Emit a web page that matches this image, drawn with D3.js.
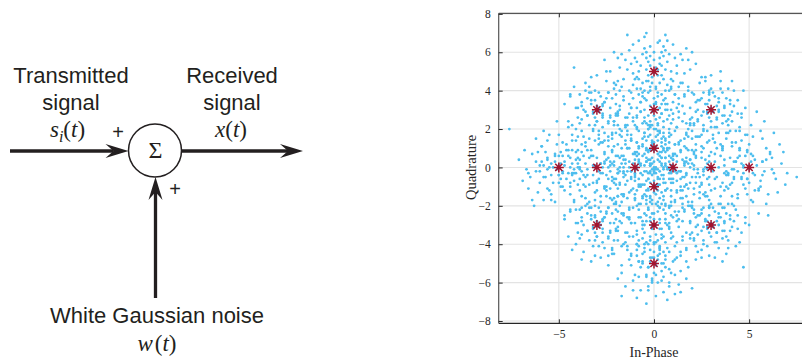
<!DOCTYPE html>
<html>
<head>
<meta charset="utf-8">
<script src="https://cdn.jsdelivr.net/npm/d3@7"></script>
<style>
  html, body { margin: 0; padding: 0; background: #fff; }
  svg { display: block; }
</style>
</head>
<body>
<svg id="fig" width="802" height="358"></svg>
<script>
// ---- Block diagram labels ----
const inputLabel = ["Transmitted", "signal"];
const outputLabel = ["Received", "signal"];
const noiseLabel = "White Gaussian noise";

// ---- 16-point constellation (ideal symbol positions) ----
const symbolsI = [0, 0, 0, 0, 0, 0, -5, -3, -1, 1, 3, 5, 3, -3, 3, -3];
const symbolsQ = [5, 3, 1, -1, -3, -5, 0, 0, 0, 0, 0, 0, 3, 3, -3, -3];

// ---- Axis ticks ----
const xTicks = [-5, 0, 5];
const yTicks = [-8, -6, -4, -2, 0, 2, 4, 6, 8];

// ---- Received samples [in-phase, quadrature] ----
const received = [
  // near (0, 5)
  [0.3,5.4],[-0.6,5.9],[0.9,4.6],[-0.2,6.3],[0.5,5.8],[-1.1,4.9],[0.1,4.2],[-0.4,5.1],[1.2,5.3],[-0.8,6.6],[0.6,6.1],[-1.5,5.6],[0.2,3.9],[-0.3,4.5],[1.6,4.9],[-0.9,4.1],[0.8,5.9],[-0.4,7.0],[0.4,4.8],[-1.3,6.1],[1.0,6.4],[-0.5,3.6],[0.7,4.3],[-1.8,5.2],[1.4,5.9],[0.0,5.6],[-0.7,5.3],[0.3,6.6],[-0.2,4.0],[1.9,5.1],[-2.1,6.0],[0.5,3.5],[-1.0,5.7],[0.9,5.0],[-0.4,6.0],[1.3,4.2],[-1.6,4.6],[0.2,5.1],[-0.6,4.4],[0.6,6.9],[-2.3,5.0],[2.2,5.4],[-0.1,4.7],[1.1,3.8],[-1.2,3.9],[0.4,5.3],[-0.8,5.0],[1.7,6.2],[-1.4,6.9],[0.0,6.0],[-0.3,5.5],[0.8,4.0],[-2.0,4.3],[2.5,4.7],[-0.5,6.8],[0.1,3.3],[-1.7,5.9],[1.5,5.6],[-0.9,4.7],[0.7,5.5],[-0.2,5.8],[1.0,4.5],[-2.6,5.6],[0.3,4.4],[-1.1,6.4],[2.0,6.0],[-0.7,3.4],[0.5,6.3],
  [0.1,5.2],[-0.3,4.8],[0.6,5.1],[-0.9,5.5],[0.4,6.0],[-0.1,4.4],[1.1,5.7],[-1.4,5.1],[0.2,6.5],[-0.6,3.9],[0.9,4.1],[-0.2,5.3],[1.5,4.4],[-1.1,4.3],[0.7,6.6],[-0.5,6.2],[0.0,4.9],[1.8,5.6],[-1.9,5.7],[0.3,5.7],[-0.8,4.6],[0.5,4.6],[-0.4,5.7],[1.2,4.9],[-1.2,5.4],
  // near (0, 3)
  [0.4,3.3],[-0.5,2.6],[1.1,3.8],[-1.2,3.1],[0.2,2.2],[-0.3,3.9],[0.8,2.7],[-0.9,2.0],[1.5,3.2],[-1.6,3.7],[0.1,4.1],[-0.1,2.9],[0.6,3.6],[-0.7,3.4],[1.9,2.5],[-2.0,2.8],[0.3,1.8],[-0.4,4.5],[1.2,2.1],[-1.1,2.4],[0.9,4.2],[-0.2,3.2],[2.3,3.5],[-2.4,3.9],[0.5,2.4],[-0.8,3.8],[1.4,4.4],[-1.4,1.9],[0.0,3.6],[-0.6,1.5],[0.7,3.0],[-1.9,2.2],[1.7,1.8],[-0.3,2.0],[0.2,4.8],[-1.0,4.6],[1.0,3.4],[-0.5,3.0],[2.6,2.9],[-2.7,3.3],[0.4,2.8],[-0.1,1.3],[1.3,2.9],[-1.3,3.3],[0.8,1.6],[-0.9,2.7],[0.1,2.5],[-1.7,4.2],[1.8,4.0],[-0.4,3.5],[0.6,4.0],[-2.2,1.7],[2.1,2.2],[0.0,2.0],[-0.7,4.1],[1.1,1.2],[-1.5,2.6],[0.3,3.1],[-0.2,2.4],[0.9,2.3],[-1.2,1.4],[1.6,3.7],[-0.8,1.1],[0.5,1.0],[-3.0,2.4],[2.9,3.9],[-0.6,2.3],[0.2,3.7],
  [0.2,3.0],[-0.3,2.7],[0.7,3.3],[-0.9,3.1],[0.4,3.8],[-0.1,2.2],[1.0,2.5],[-1.3,2.8],[0.1,3.4],[-0.6,3.7],[0.9,3.0],[-0.4,2.3],[1.3,3.6],[-1.1,3.6],[0.5,2.1],[-0.2,4.2],[0.3,2.6],[1.6,2.8],[-1.8,3.0],[0.6,3.3],[-0.7,2.9],[0.0,3.3],[-0.5,4.0],[1.2,3.1],[-1.0,2.2],
  // near (0, 1)
  [0.3,0.8],[-0.4,1.4],[1.0,0.4],[-1.1,0.7],[0.5,1.8],[-0.2,0.1],[0.8,1.3],[-0.8,1.9],[1.4,0.9],[-1.5,0.2],[0.1,-0.3],[-0.1,1.1],[0.6,0.5],[-0.6,0.6],[1.8,1.6],[-1.9,1.2],[0.2,2.3],[-0.3,-0.6],[1.2,2.1],[-1.2,1.7],[0.9,-0.2],[0.0,0.9],[2.2,0.6],[-2.3,0.1],[0.4,1.5],[-0.7,0.1],[1.5,-0.5],[-1.4,2.2],[-0.1,0.5],[-0.5,2.4],[0.7,1.0],[-1.8,2.0],[1.7,2.3],[-0.3,2.0],[0.2,-0.9],[-1.0,-0.7],[1.1,0.7],[-0.4,0.9],[2.5,1.1],[-2.6,0.8],[0.4,1.1],[0.0,2.7],[1.3,1.2],[-1.3,1.0],[0.7,2.5],[-0.9,1.3],[0.1,1.6],[-1.6,-0.2],[1.9,0.0],[-0.2,0.4],[0.5,0.0],[-2.1,2.4],[2.0,1.9],[0.1,2.0],[-0.7,-0.3],[1.0,2.8],[-1.5,1.4],[0.3,0.3],[-0.2,1.7],[0.8,1.8],[-1.1,2.6],[1.6,0.3],[-0.7,2.9],[0.6,3.0],[-2.9,1.5],[2.8,0.2],[-0.5,1.6],[0.2,0.7],
  [0.1,1.0],[-0.3,0.8],[0.6,1.2],[-0.8,1.0],[0.3,1.9],[-0.1,0.2],[0.9,0.5],[-1.2,1.5],[0.2,1.4],[-0.5,1.8],[1.1,1.9],[-0.4,0.3],[1.4,1.4],[-1.0,0.4],[0.4,0.1],[-0.2,2.2],[0.6,0.8],[1.7,1.0],[-1.7,0.6],[0.5,1.6],[-0.6,1.1],[0.0,1.3],[-0.3,1.6],[0.8,-0.1],[-0.9,2.1],
  // near (0, -1)
  [-0.2,-0.8],[0.5,-1.5],[-1.0,-0.4],[1.2,-0.7],[-0.4,-1.9],[0.1,0.0],[-0.9,-1.2],[0.8,-2.0],[-1.5,-0.9],[1.4,-0.2],[0.0,-1.3],[0.3,-0.6],[-0.6,-1.6],[0.7,-1.1],[-1.9,-1.5],[1.8,-1.1],[-0.1,-2.4],[0.4,0.5],[-1.3,-2.1],[1.1,-1.8],[-0.8,0.2],[0.2,-0.9],[-2.2,-0.7],[2.3,-0.1],[-0.5,-1.4],[0.6,0.1],[-1.6,0.4],[1.3,-2.3],[0.0,-0.3],[0.6,-2.7],[-0.7,-1.0],[1.9,-2.0],[-1.7,-2.4],[0.3,-2.1],[-0.2,0.9],[1.0,0.7],[-1.2,-1.2],[0.5,-0.8],[-2.6,-1.1],[2.5,-0.8],[-0.3,-1.1],[0.1,-3.0],[-1.4,-1.6],[1.4,-1.2],[-0.8,-2.6],[0.9,-0.3],[-0.1,-1.7],[1.6,0.2],[-1.8,0.0],[0.3,-1.6],[-0.4,0.3],[2.1,-2.4],[-2.0,-1.9],[-0.1,-0.1],[0.8,0.3],[-1.0,-2.9],[1.5,-1.6],[-0.3,-0.3],[0.4,-1.3],[-0.9,-2.0],[1.2,-2.8],[-1.6,-0.3],[0.8,-3.1],[-0.6,-3.0],[2.9,-0.5],[-2.8,-1.8],[0.6,-1.9],[-0.2,-1.5],
  [0.1,-1.0],[-0.3,-1.2],[0.6,-0.8],[-0.8,-0.9],[0.3,-0.2],[-0.1,-1.9],[0.9,-1.5],[-1.2,-0.5],[0.2,-0.6],[-0.5,-0.2],[1.1,-0.1],[-0.4,-1.7],[1.4,-0.6],[-1.0,-1.6],[0.4,-1.9],[-0.2,0.1],[0.6,-1.2],[1.7,-0.9],[-1.7,-1.4],[0.5,-0.4],[-0.6,-0.9],[0.0,-0.7],[-0.3,-2.2],[0.8,-2.1],[-0.9,0.0],
  // near (0, -3)
  [0.3,-2.7],[-0.5,-3.4],[1.1,-2.3],[-1.2,-2.9],[0.2,-3.8],[-0.3,-2.1],[0.8,-3.2],[-0.9,-4.0],[1.5,-2.8],[-1.6,-2.4],[0.1,-1.9],[-0.1,-3.1],[0.6,-2.4],[-0.7,-2.6],[1.9,-3.5],[-2.0,-3.2],[0.3,-4.2],[-0.4,-1.5],[1.2,-3.9],[-1.1,-3.6],[0.9,-1.8],[-0.2,-2.8],[2.3,-2.5],[-2.4,-2.1],[0.5,-3.6],[-0.8,-2.2],[1.4,-1.6],[-1.4,-4.1],[0.0,-2.4],[-0.6,-4.5],[0.7,-3.0],[-1.9,-3.8],[1.7,-4.2],[-0.3,-4.0],[0.2,-1.2],[-1.0,-1.4],[1.0,-2.6],[-0.5,-3.0],[2.6,-3.1],[-2.7,-2.7],[0.4,-3.2],[-0.1,-4.7],[1.3,-3.1],[-1.3,-2.7],[0.8,-4.4],[-0.9,-3.3],[0.1,-3.5],[-1.7,-1.8],[1.8,-2.0],[-0.4,-2.5],[0.6,-2.0],[-2.2,-4.3],[2.1,-3.8],[0.0,-4.0],[-0.7,-1.9],[1.1,-4.8],[-1.5,-3.4],[0.3,-2.9],[-0.2,-3.6],[0.9,-3.7],[-1.2,-4.6],[1.6,-2.3],[-0.8,-4.9],[0.5,-5.0],[-3.0,-3.6],[2.9,-2.1],[-0.6,-3.7],[0.2,-2.3],
  [-0.1,-3.0],[0.3,-3.2],[-0.6,-2.8],[0.8,-2.9],[-0.3,-2.2],[0.1,-3.9],[-0.9,-3.5],[1.2,-2.5],[-0.2,-2.6],[0.5,-2.2],[-1.1,-2.1],[0.4,-3.7],[-1.4,-2.6],[1.0,-3.6],[-0.4,-3.9],[0.2,-1.8],[-0.6,-3.2],[-1.7,-2.9],[1.7,-3.4],[-0.5,-2.4],[0.6,-2.9],[0.0,-2.7],[0.3,-4.3],[-0.8,-4.1],[0.9,-2.0],
  // near (0, -5)
  [-0.2,-4.7],[0.4,-5.4],[-0.9,-4.3],[1.0,-4.9],[-0.1,-5.8],[0.3,-4.1],[-0.7,-5.2],[0.8,-6.0],[-1.3,-4.8],[1.4,-4.4],[0.0,-3.9],[0.1,-5.1],[-0.5,-4.4],[0.6,-4.6],[-1.7,-5.5],[1.8,-5.2],[-0.3,-6.2],[0.4,-3.5],[-1.1,-5.9],[1.1,-5.6],[-0.8,-3.8],[0.2,-4.8],[-2.1,-4.5],[2.2,-4.1],[-0.4,-5.6],[0.7,-4.2],[-1.3,-3.6],[1.3,-6.1],[0.0,-4.4],[0.5,-6.5],[-0.6,-5.0],[1.7,-5.8],[-1.5,-6.2],[0.2,-6.0],[-0.1,-3.2],[0.9,-3.4],[-0.9,-4.6],[0.4,-5.0],[-2.4,-5.1],[2.5,-4.7],[-0.3,-5.2],[0.1,-6.7],[-1.2,-5.1],[1.2,-4.7],[-0.7,-6.4],[0.8,-5.3],[0.0,-5.5],[1.5,-3.8],[-1.6,-4.0],[0.3,-4.5],[-0.5,-4.0],[2.0,-6.3],[-1.9,-5.8],[-0.1,-6.0],[0.6,-3.9],[-0.9,-6.8],[1.4,-5.4],[-0.2,-4.9],[0.1,-5.6],[-0.8,-5.7],[1.1,-6.6],[-1.4,-4.3],[0.7,-6.9],[-0.4,-7.1],[-1.7,-6.7],[1.4,-6.5],[-1.1,-6.4],[0.5,-5.7],[-0.2,-4.3],
  [0.1,-5.0],[-0.3,-5.2],[0.6,-4.8],[-0.8,-4.9],[0.3,-4.2],[-0.1,-5.9],[0.9,-5.5],[-1.2,-4.5],[0.2,-4.6],[-0.5,-4.2],[1.1,-4.1],[-0.4,-5.7],[1.4,-4.6],[-1.0,-5.6],[0.4,-5.9],[-0.2,-3.8],[0.6,-5.2],[1.7,-4.9],[-1.7,-5.1],[0.5,-4.4],[-0.6,-4.9],[0.0,-4.7],[-0.3,-6.4],[0.8,-6.2],[-0.9,-4.0],
  // near (-5, 0)
  [-4.7,0.3],[-5.4,-0.4],[-4.3,0.9],[-4.9,-1.0],[-5.8,0.1],[-4.1,-0.3],[-5.2,0.7],[-6.0,-0.8],[-4.8,1.3],[-4.4,-1.4],[-3.9,0.0],[-5.1,-0.1],[-4.4,0.5],[-4.6,-0.6],[-5.5,1.7],[-5.2,-1.8],[-6.2,0.3],[-3.5,-0.4],[-5.9,1.1],[-5.6,-1.1],[-3.8,0.8],[-4.8,-0.2],[-4.5,2.1],[-4.1,-2.2],[-5.6,0.4],[-4.2,-0.7],[-3.6,1.3],[-6.1,-1.3],[-4.4,0.0],[-6.5,-0.5],[-5.0,0.6],[-5.8,-1.7],[-6.2,1.5],[-6.0,-0.2],[-3.2,0.1],[-3.4,-0.9],[-4.6,0.9],[-5.0,-0.4],[-5.1,2.4],[-4.7,-2.5],[-5.2,0.3],[-6.7,-0.1],[-5.1,1.2],[-4.7,-1.2],[-6.4,0.7],[-5.3,-0.8],[-5.5,0.0],[-3.8,-1.5],[-4.0,1.6],[-4.5,-0.3],[-4.0,0.5],[-6.3,-2.0],[-5.8,1.9],[-6.0,0.1],[-3.9,-0.6],[-6.8,0.9],[-5.4,-1.4],[-4.9,0.2],[-5.6,-0.1],[-5.7,0.8],[-6.6,-1.1],[-4.3,1.4],[-6.9,-0.7],[-7.1,0.4],[-7.6,2.0],[-6.4,-1.7],[-5.7,-0.5],[-4.3,0.2],
  [-5.0,0.1],[-4.8,-0.3],[-5.2,0.6],[-5.0,-0.8],[-5.9,0.3],[-4.2,-0.1],[-4.5,0.9],[-5.5,-1.2],[-5.4,0.2],[-5.8,-0.5],[-5.9,1.1],[-4.3,-0.4],[-5.6,1.4],[-4.4,-1.0],[-4.1,0.4],[-6.2,-0.2],[-4.8,0.6],[-5.0,1.7],[-5.4,-1.7],[-5.6,0.5],[-4.9,-0.6],[-5.3,0.0],[-6.6,-0.3],[-6.1,0.8],[-4.0,-0.9],
  // near (-3, 0)
  [-2.7,-0.3],[-3.4,0.5],[-2.3,-1.1],[-2.9,1.2],[-3.8,-0.2],[-2.1,0.3],[-3.2,-0.8],[-4.0,0.9],[-2.8,-1.5],[-2.4,1.6],[-1.9,-0.1],[-3.1,0.1],[-2.4,-0.6],[-2.6,0.7],[-3.5,-1.9],[-3.2,2.0],[-4.2,-0.3],[-1.5,0.4],[-3.9,-1.2],[-3.6,1.1],[-1.8,-0.9],[-2.8,0.2],[-2.5,-2.3],[-2.1,2.4],[-3.6,-0.5],[-2.2,0.8],[-1.6,-1.4],[-4.1,1.4],[-2.4,0.0],[-4.5,0.6],[-3.0,-0.7],[-3.8,1.9],[-4.2,-1.7],[-4.0,0.2],[-1.2,-0.2],[-1.4,1.0],[-2.6,-1.0],[-3.0,0.5],[-3.1,-2.6],[-2.7,2.7],[-3.2,-0.4],[-4.7,0.1],[-3.1,-1.3],[-2.7,1.3],[-4.4,-0.8],[-3.3,0.9],[-3.5,-0.1],[-1.8,1.7],[-2.0,-1.8],[-2.5,0.4],[-2.0,-0.6],[-4.3,2.2],[-3.8,-2.1],[-4.0,0.0],[-1.9,0.6],[-4.8,-1.0],[-3.4,1.5],[-2.9,-0.2],[-3.6,0.2],[-3.7,-0.9],[-4.6,1.2],[-2.3,-1.6],[-4.9,0.8],[-5.0,-0.4],[-3.6,2.9],[-2.1,-2.9],[-3.7,0.6],[-2.3,-0.2],
  [-3.1,0.0],[-2.8,-0.3],[-3.3,0.6],[-3.0,-0.8],[-2.3,0.3],[-3.9,-0.1],[-3.5,0.9],[-2.5,-1.2],[-2.6,0.2],[-2.2,-0.5],[-2.1,1.1],[-3.7,-0.4],[-2.6,1.4],[-3.6,-1.0],[-3.9,0.4],[-1.8,-0.2],[-3.2,0.6],[-2.9,1.7],[-3.1,-1.7],[-2.4,0.5],[-2.9,-0.6],[-2.7,0.0],[-4.3,-0.3],[-4.1,0.8],[-2.0,-0.9],
  // near (-1, 0)
  [-1.3,0.3],[-0.6,-0.4],[-1.7,1.0],[-1.1,-1.1],[-0.2,0.2],[-1.9,-0.3],[-0.8,0.7],[0.0,-0.9],[-1.2,1.4],[-1.6,-1.5],[-2.1,0.1],[-0.9,-0.1],[-1.6,0.6],[-1.4,-0.7],[-0.5,1.8],[-0.8,-1.9],[0.2,0.4],[-2.5,-0.4],[-0.1,1.2],[-0.4,-1.2],[-2.2,0.9],[-1.2,-0.2],[-1.5,2.2],[-1.9,-2.3],[-0.4,0.5],[-1.8,-0.8],[-2.4,1.4],[0.1,-1.4],[-1.6,0.0],[0.5,-0.6],[-1.0,0.7],[-0.2,-1.8],[0.2,1.7],[0.0,-0.2],[-2.8,0.2],[-2.6,-1.0],[-1.4,1.0],[-1.0,-0.5],[-0.9,2.6],[-1.3,-2.6],[-0.8,0.4],[0.7,-0.1],[-0.9,1.3],[-1.3,-1.3],[0.4,0.8],[-0.7,-0.9],[-0.5,0.1],[-2.2,-1.7],[-2.0,1.8],[-1.5,-0.4],[-2.0,0.6],[0.3,-2.1],[-0.2,2.1],[0.0,0.0],[-2.1,-0.6],[0.8,1.0],[-0.6,-1.5],[-1.1,0.2],[-0.4,-0.2],[-0.3,0.9],[0.6,-1.2],[-1.7,1.6],[0.9,-0.8],[1.0,0.4],[-0.4,-2.8],[-1.9,2.8],[-0.3,-0.6],[-1.7,0.2],
  [-1.0,-0.1],[-0.8,0.3],[-1.2,-0.6],[-1.0,0.8],[-1.9,-0.3],[-0.2,0.1],[-0.5,-0.9],[-1.5,1.2],[-1.4,-0.2],[-1.8,0.5],[-1.9,-1.1],[-0.3,0.4],[-1.6,-1.4],[-0.4,1.0],[-0.1,-0.4],[-2.2,0.2],[-0.8,-0.6],[-1.0,-1.7],[-1.4,1.7],[-1.6,-0.5],[-0.9,0.6],[-1.3,0.0],[-2.6,0.3],[-2.1,-0.8],[0.0,0.9],
  // near (1, 0)
  [1.3,-0.2],[0.6,0.5],[1.7,-0.9],[1.1,1.2],[0.2,-0.1],[1.9,0.4],[0.8,-0.6],[0.0,1.0],[1.2,-1.3],[1.6,1.5],[2.1,-0.1],[0.9,0.1],[1.6,-0.5],[1.4,0.8],[0.5,-1.7],[0.8,2.0],[-0.2,-0.3],[2.5,0.5],[0.1,-1.1],[0.4,1.3],[2.2,-0.8],[1.2,0.3],[1.5,-2.1],[1.9,2.2],[0.4,-0.4],[1.8,0.9],[2.4,-1.3],[-0.1,1.4],[1.6,0.1],[-0.5,0.7],[1.0,-0.6],[0.2,1.9],[-0.2,-1.6],[0.0,0.3],[2.8,-0.1],[2.6,1.0],[1.4,-1.0],[1.0,0.6],[0.9,-2.5],[1.3,2.6],[0.8,-0.3],[-0.7,0.2],[0.9,-1.2],[1.3,1.3],[-0.4,-0.7],[0.7,0.9],[0.5,-0.1],[2.2,1.6],[2.0,-1.8],[1.5,0.4],[2.0,-0.5],[-0.3,2.2],[0.2,-2.0],[0.0,-0.1],[2.1,0.7],[-0.8,-1.0],[0.6,1.5],[1.1,-0.2],[0.4,0.2],[0.3,-0.9],[-0.6,1.2],[1.7,-1.5],[-0.9,0.8],[-1.0,-0.3],[0.4,2.8],[1.9,-2.8],[0.3,0.6],[1.7,-0.3],
  [1.0,0.1],[1.2,-0.3],[0.8,0.6],[1.0,-0.8],[1.7,0.3],[0.1,-0.1],[0.5,0.9],[1.5,-1.2],[0.6,0.2],[0.2,-0.5],[0.1,1.1],[1.7,-0.4],[0.6,1.4],[1.6,-1.0],[1.9,0.4],[-0.2,-0.2],[1.2,0.6],[0.9,1.7],[1.1,-1.7],[0.4,0.5],[0.9,-0.6],[0.7,0.0],[2.3,-0.3],[2.1,0.8],[0.0,-0.9],
  // near (3, 0)
  [2.6,-0.4],[3.5,0.6],[2.2,0.9],[3.9,-1.1],[3.1,-0.2],[2.4,1.6],[4.3,0.3],[1.9,-0.8],[3.3,1.0],[2.8,-1.5],[3.7,0.1],[2.0,0.2],[4.6,-0.6],[3.0,2.1],[2.5,-2.2],[3.6,-0.8],[1.6,1.1],[4.1,1.3],[2.7,0.4],[3.4,-1.9],[2.1,-1.4],[4.9,0.8],[3.2,0.7],[1.4,-0.2],[3.8,1.8],[2.9,-0.9],[4.4,-1.6],[2.3,2.4],[3.1,1.5],[2.6,-0.1],[4.0,0.5],[1.7,0.5],[3.5,-2.6],[3.3,-0.5],[2.0,-2.0],[4.7,-0.3],[2.8,1.3],[3.9,2.5],[1.2,-1.2],[3.0,0.0],[2.4,-1.0],[4.2,-0.1],[3.6,1.1],[2.2,-0.5],[5.1,0.3],[3.4,2.9],[1.8,2.0],[3.7,-1.2],[2.7,-2.8],[4.5,1.9],[2.5,0.8],[3.2,-1.1],[1.5,-1.9],[4.3,-2.2],[2.9,0.3],[3.1,-3.0],[2.0,1.5],[3.8,-0.4],[2.6,1.9],[4.8,-1.1],
  [3.0,-0.1],[3.2,0.3],[2.8,-0.6],[3.0,0.8],[3.7,-0.3],[2.1,0.1],[2.5,-0.9],[3.5,1.2],[2.6,-0.2],[2.2,0.5],[2.1,-1.1],[3.7,0.4],[2.6,-1.4],[3.6,1.0],[3.9,-0.4],[1.8,0.2],[3.2,-0.6],[2.9,-1.7],[3.1,1.7],[2.4,-0.5],[2.9,0.6],[2.7,0.0],[4.3,0.3],[4.1,-0.8],[2.0,0.9],
  // near (5, 0)
  [5.3,0.4],[4.6,-0.5],[5.8,-0.2],[4.9,0.9],[5.5,-1.1],[4.2,0.3],[6.1,0.7],[5.0,-0.1],[4.4,-1.4],[5.7,1.5],[6.4,-0.6],[4.8,1.7],[5.2,-1.8],[3.9,-0.3],[6.0,-1.4],[5.4,0.1],[4.5,0.6],[6.7,0.2],[5.1,2.2],[4.1,-1.9],[5.9,1.0],[4.7,-0.9],[6.3,1.8],[5.6,-0.7],[3.6,0.9],[5.0,1.2],[6.9,-0.9],[4.3,1.3],[5.5,-2.4],[6.2,-0.1],[4.8,-2.6],[5.8,2.4],[3.8,-1.0],[5.3,-0.4],[4.6,2.8],[7.0,-0.3],[5.9,-1.9],[4.0,1.9],[5.1,0.7],[6.6,1.2],[4.9,-1.4],[3.4,0.0],[5.7,0.3],[4.4,-0.2],[6.0,-2.5],[5.2,1.6],[4.7,0.1],[6.5,-1.3],[3.7,-2.1],[5.4,2.9],[4.2,-0.6],[6.2,0.5],[5.0,-3.0],[4.5,1.0],[5.6,1.9],[4.9,-0.6],[6.8,0.8],[4.1,2.4],[5.3,-1.2],[7.5,-0.5],
  [5.0,0.1],[5.2,-0.3],[4.8,0.6],[5.0,-0.8],[5.7,0.3],[4.1,-0.1],[4.5,0.9],[5.5,-1.2],[4.6,0.2],[4.2,-0.5],[4.1,1.1],[5.7,-0.4],[4.6,1.4],[5.6,-1.0],[5.9,0.4],[3.8,-0.2],[5.2,0.6],[4.9,1.7],[5.1,-1.7],[4.4,0.5],[4.9,-0.6],[4.7,0.0],[6.3,-0.3],[6.1,0.8],[4.0,-0.9],
  // near (3, 3)
  [3.3,3.2],[2.5,2.7],[3.8,3.6],[2.9,4.0],[3.6,2.3],[2.2,3.4],[4.1,2.9],[3.0,2.4],[2.6,3.9],[3.9,4.1],[3.4,1.8],[2.1,2.3],[4.4,3.5],[3.2,3.7],[2.8,1.9],[3.7,2.7],[1.9,3.1],[4.2,4.0],[2.7,3.3],[3.5,4.5],[2.3,1.6],[4.6,2.6],[3.1,2.9],[1.6,3.8],[3.8,1.5],[2.9,3.5],[4.0,3.3],[2.4,4.4],[3.3,2.1],[4.3,1.9],[2.0,2.6],[3.6,3.9],[2.6,2.2],[4.8,3.1],[3.0,4.8],[1.8,4.2],[3.9,2.2],[2.8,2.9],[3.4,3.4],[2.2,1.2],[4.1,4.5],[3.2,1.3],[1.5,2.4],[3.7,3.1],[2.5,3.6],[4.5,2.1],[2.9,2.6],[3.5,5.0],[1.7,1.7],[4.0,2.7],[2.3,3.0],[3.1,3.9],[4.7,4.0],[2.7,4.7],[3.6,1.1],[1.3,3.3],[3.3,2.6],[2.1,3.8],[4.2,3.2],[2.9,1.4],
  [3.1,2.9],[2.8,3.3],[3.3,2.5],[2.9,3.8],[3.7,3.2],[2.2,2.9],[2.6,2.0],[3.5,4.1],[3.6,2.7],[2.4,3.5],[2.0,3.9],[3.8,2.4],[2.5,1.7],[3.4,3.6],[4.0,3.5],[2.8,2.8],[3.2,2.1],[2.7,4.5],[3.9,1.8],[2.3,2.5],[3.0,3.1],[3.4,3.0],[4.4,2.8],[1.9,2.3],[3.0,4.1],
  // near (-3, 3)
  [-2.7,3.2],[-3.5,2.7],[-2.2,3.6],[-3.1,4.0],[-2.4,2.3],[-3.8,3.4],[-1.9,2.9],[-3.0,2.4],[-3.4,3.9],[-2.1,4.1],[-2.6,1.8],[-3.9,2.3],[-1.6,3.5],[-2.8,3.7],[-3.2,1.9],[-2.3,2.7],[-4.1,3.1],[-1.8,4.0],[-3.3,3.3],[-2.5,4.5],[-3.7,1.6],[-1.4,2.6],[-2.9,2.9],[-4.4,3.8],[-2.2,1.5],[-3.1,3.5],[-2.0,3.3],[-3.6,4.4],[-2.7,2.1],[-1.7,1.9],[-4.0,2.6],[-2.4,3.9],[-3.4,2.2],[-1.2,3.1],[-3.0,4.8],[-4.2,4.2],[-2.1,2.2],[-3.2,2.9],[-2.6,3.4],[-3.8,1.2],[-1.9,4.5],[-2.8,1.3],[-4.5,2.4],[-2.3,3.1],[-3.5,3.6],[-1.5,2.1],[-3.1,2.6],[-2.5,5.0],[-4.3,1.7],[-2.0,2.7],[-3.7,3.0],[-2.9,3.9],[-1.3,4.0],[-3.3,4.7],[-2.4,1.1],[-4.7,3.3],[-2.7,2.6],[-3.9,3.8],[-1.8,3.2],[-3.1,1.4],[-4.2,5.2],
  [-2.9,3.1],[-3.2,2.8],[-2.6,3.4],[-3.3,3.9],[-2.3,2.6],[-3.8,3.2],[-2.9,1.9],[-3.6,4.0],[-2.4,2.4],[-3.5,2.7],[-2.0,3.8],[-3.8,2.5],[-2.2,1.8],[-3.3,3.5],[-4.0,3.1],[-2.7,2.8],[-3.1,2.2],[-2.1,4.4],[-4.1,2.0],[-2.5,3.6],[-3.0,3.2],[-2.8,3.0],[-4.4,3.7],[-1.9,2.7],[-3.4,4.2],
  // near (3, -3)
  [3.3,-2.8],[2.5,-3.3],[3.8,-2.4],[2.9,-2.0],[3.6,-3.7],[2.2,-2.6],[4.1,-3.1],[3.0,-3.6],[2.6,-2.1],[3.9,-1.9],[3.4,-4.2],[2.1,-3.7],[4.4,-2.5],[3.2,-2.3],[2.8,-4.1],[3.7,-3.3],[1.9,-2.9],[4.2,-2.0],[2.7,-2.7],[3.5,-1.5],[2.3,-4.4],[4.6,-3.4],[3.1,-3.1],[1.6,-2.2],[3.8,-4.5],[2.9,-2.5],[4.0,-2.7],[2.4,-1.6],[3.3,-3.9],[4.3,-4.1],[2.0,-3.4],[3.6,-2.1],[2.6,-3.8],[4.8,-2.9],[3.0,-1.2],[1.8,-1.8],[3.9,-3.8],[2.8,-3.1],[3.4,-2.6],[2.2,-4.8],[4.1,-1.5],[3.2,-4.7],[1.5,-3.6],[3.7,-2.9],[2.5,-2.4],[4.5,-3.9],[2.9,-3.4],[3.5,-1.0],[1.7,-4.3],[4.0,-3.3],[2.3,-3.0],[3.1,-2.1],[4.7,-5.2],[2.7,-1.3],[3.6,-4.9],[1.3,-2.7],[3.3,-3.4],[2.1,-2.2],[4.2,-2.8],[2.9,-4.6],
  [3.1,-3.1],[2.8,-2.8],[3.3,-3.4],[2.9,-2.1],[3.7,-2.8],[2.2,-3.1],[2.6,-4.0],[3.5,-1.9],[3.6,-3.3],[2.4,-2.5],[2.0,-2.1],[3.8,-3.6],[2.5,-4.3],[3.4,-2.4],[4.0,-2.5],[2.8,-3.2],[3.2,-3.9],[2.7,-1.5],[3.9,-4.2],[2.3,-3.5],[3.0,-2.9],[3.4,-3.0],[4.4,-3.2],[1.9,-3.7],[3.0,-1.9],
  // near (-3, -3)
  [-2.7,-2.8],[-3.5,-3.3],[-2.2,-2.4],[-3.1,-2.0],[-2.4,-3.7],[-3.8,-2.6],[-1.9,-3.1],[-3.0,-3.6],[-3.4,-2.1],[-2.1,-1.9],[-2.6,-4.2],[-3.9,-3.7],[-1.6,-2.5],[-2.8,-2.3],[-3.2,-4.1],[-2.3,-3.3],[-4.1,-2.9],[-1.8,-2.0],[-3.3,-2.7],[-2.5,-1.5],[-3.7,-4.4],[-1.4,-3.4],[-2.9,-3.1],[-4.4,-2.2],[-2.2,-4.5],[-3.1,-2.5],[-2.0,-2.7],[-3.6,-1.6],[-2.7,-3.9],[-1.7,-4.1],[-4.0,-3.4],[-2.4,-2.1],[-3.4,-3.8],[-1.2,-2.9],[-3.0,-1.2],[-4.2,-1.8],[-2.1,-3.8],[-3.2,-3.1],[-2.6,-2.6],[-3.8,-4.8],[-1.9,-1.5],[-2.8,-4.7],[-4.5,-3.6],[-2.3,-2.9],[-3.5,-2.4],[-1.5,-3.9],[-3.1,-3.4],[-2.5,-1.0],[-4.3,-4.3],[-2.0,-3.3],[-3.7,-3.0],[-2.9,-2.1],[-1.3,-2.2],[-3.3,-4.9],[-2.4,-4.6],[-4.7,-2.7],[-2.7,-3.4],[-3.9,-2.2],[-1.8,-2.8],[-3.1,-4.6],
  [-2.9,-2.9],[-3.2,-3.2],[-2.6,-2.6],[-3.3,-2.1],[-2.3,-3.4],[-3.8,-2.8],[-2.9,-4.1],[-3.6,-2.0],[-2.4,-3.6],[-3.5,-3.3],[-2.0,-2.2],[-3.8,-3.5],[-2.2,-4.2],[-3.3,-2.5],[-4.0,-2.9],[-2.7,-3.2],[-3.1,-3.8],[-2.1,-1.6],[-4.1,-4.0],[-2.5,-2.4],[-3.0,-2.8],[-2.8,-3.0],[-4.4,-2.3],[-1.9,-3.3],[-3.4,-1.8]
];

const svg = d3.select("#fig");
const ink = "#231f20";

// ================= Block diagram: x(t) = s_i(t) + w(t) =================
const diagram = svg.append("g").attr("class", "diagram");
const node = { cx: 155, cy: 150.5, r: 26.5 };

// barbed arrowhead pointing along +x, tip at origin
const headShape = [[0, 0], [-23, -7], [-15, 0], [-23, 7]];
function arrow(x1, y1, x2, y2) {
  const ang = Math.atan2(y2 - y1, x2 - x1);
  const back = 15;
  diagram.append("line")
    .attr("x1", x1).attr("y1", y1)
    .attr("x2", x2 - back * Math.cos(ang)).attr("y2", y2 - back * Math.sin(ang))
    .attr("stroke", ink).attr("stroke-width", 3.3);
  diagram.append("path")
    .attr("d", d3.line()(headShape) + "Z")
    .attr("transform", `translate(${x2},${y2}) rotate(${ang * 180 / Math.PI})`)
    .attr("fill", ink);
}

arrow(10, 151, node.cx - node.r, 151);
arrow(node.cx + node.r, 151, 303, 151);
arrow(155.5, 298, 155.5, node.cy + node.r);

diagram.append("circle")
  .attr("cx", node.cx).attr("cy", node.cy).attr("r", node.r)
  .attr("fill", "none").attr("stroke", ink).attr("stroke-width", 1.5);

diagram.append("text")
  .attr("x", node.cx + 0.5).attr("y", 158)
  .attr("text-anchor", "middle")
  .attr("font-family", "Liberation Serif").attr("font-size", 24)
  .attr("fill", ink).text("Σ");

const sans = "Liberation Sans";
function labelLines(lines, cx, y0, dy) {
  lines.forEach((t, k) => {
    diagram.append("text")
      .attr("x", cx).attr("y", y0 + k * dy)
      .attr("text-anchor", "middle")
      .attr("font-family", sans).attr("font-size", 22)
      .attr("fill", ink).text(t);
  });
}
labelLines(inputLabel, 71, 83, 26.5);
labelLines(outputLabel, 232, 83, 26.5);
labelLines([noiseLabel], 157, 323, 0);

// plus signs at the summing node inputs
[[118, 139], [175, 196]].forEach(([px, py]) => {
  diagram.append("text")
    .attr("x", px).attr("y", py)
    .attr("text-anchor", "middle")
    .attr("font-family", sans).attr("font-size", 20)
    .attr("fill", ink).text("+");
});

// math labels: s_i(t), x(t), w(t)
function mathLabel(cx, y, parts) {
  const t = diagram.append("text")
    .attr("x", cx).attr("y", y)
    .attr("text-anchor", "middle")
    .attr("font-family", "Liberation Serif").attr("font-size", 23)
    .attr("fill", ink);
  parts.forEach(p => {
    const s = t.append("tspan").text(p.t);
    if (p.it) s.attr("font-style", "italic");
    if (p.fs) s.attr("font-size", p.fs);
    if (p.dy) s.attr("dy", p.dy);
    if (p.dx) s.attr("dx", p.dx);
  });
}
mathLabel(67.5, 137, [{ t: "s", it: 1 }, { t: "i", it: 1, fs: 16, dy: 5 }, { t: "(", dy: -5 }, { t: "t", it: 1 }, { t: ")" }]);
mathLabel(231, 137, [{ t: "x", it: 1 }, { t: "(" }, { t: "t", it: 1 }, { t: ")" }]);
mathLabel(157, 351, [{ t: "w", it: 1 }, { t: "(", dx: 2 }, { t: "t", it: 1 }, { t: ")" }]);

// ================= Constellation scatter =================
const plot = { left: 498.7, top: 13.3, bottom: 323.3 };
const x = d3.scaleLinear().domain([-8.16, 8.16]).range([plot.left, plot.left + 16.32 * 19.03]);
const y = d3.scaleLinear().domain([-8.12, 8.03]).range([plot.bottom, plot.top]);
const right = x.range()[1];

const chart = svg.append("g").attr("class", "scatter");

svg.append("clipPath").attr("id", "plotClip")
  .append("rect")
  .attr("x", plot.left).attr("y", plot.top)
  .attr("width", right - plot.left).attr("height", plot.bottom - plot.top);

// grid
const grid = chart.append("g").attr("stroke", "#e3e3e3").attr("stroke-width", 1.1);
grid.selectAll(".gx").data(xTicks).join("line")
  .attr("x1", d => x(d)).attr("x2", d => x(d))
  .attr("y1", plot.top).attr("y2", plot.bottom);
grid.selectAll(".gy").data(yTicks).join("line")
  .attr("x1", plot.left).attr("x2", right)
  .attr("y1", d => y(d)).attr("y2", d => y(d));

// received samples
chart.append("g").attr("clip-path", "url(#plotClip)")
  .selectAll("circle").data(received).join("circle")
  .attr("cx", d => x(d[0])).attr("cy", d => y(d[1]))
  .attr("r", 1.4).attr("fill", "#4DBEEE");

// ideal symbols as asterisks
const star = "M-5,0H5M0,-5V5M-3.6,-3.6L3.6,3.6M-3.6,3.6L3.6,-3.6";
chart.append("g").selectAll("path").data(symbolsI.map((v, k) => [v, symbolsQ[k]])).join("path")
  .attr("d", star)
  .attr("transform", d => `translate(${x(d[0])},${y(d[1])})`)
  .attr("stroke", "#A2142F").attr("stroke-width", 1.5).attr("fill", "none");

// axes (box with inward ticks)
const serif = "Liberation Serif";
const axisColor = "#262626";
const axisBottom = d3.axisBottom(x).tickValues(xTicks).tickSize(-4).tickPadding(7)
  .tickFormat(d => d3.format("")(d).replace("-", "\u2212"));
const axisLeft = d3.axisLeft(y).tickValues(yTicks).tickSize(-4).tickPadding(8)
  .tickFormat(d => d3.format("")(d).replace("-", "\u2212"));
const axisTop = d3.axisTop(x).tickValues(xTicks).tickSize(-4).tickFormat("");

function styleAxis(g) {
  g.select(".domain").attr("stroke", axisColor).attr("stroke-width", 1.2);
  g.selectAll(".tick line").attr("stroke", axisColor).attr("stroke-width", 1);
  g.selectAll(".tick text").attr("fill", axisColor)
    .attr("font-family", serif).attr("font-size", 11.5);
}
chart.append("g").attr("transform", `translate(0,${plot.bottom})`).call(axisBottom).call(styleAxis)
  .select(".domain").attr("d", `M${plot.left},0H${right}`);
chart.append("g").attr("transform", `translate(0,${plot.top})`).call(axisTop).call(styleAxis)
  .select(".domain").attr("d", `M${plot.left},0H${right}`).attr("stroke", "#555");
chart.append("g").attr("transform", `translate(${plot.left},0)`).call(axisLeft).call(styleAxis)
  .select(".domain").attr("d", `M0,${plot.top}V${plot.bottom}`).attr("stroke", "#555");

// axis titles
chart.append("text")
  .attr("x", x(0)).attr("y", 356.5)
  .attr("text-anchor", "middle")
  .attr("font-family", serif).attr("font-size", 14).attr("fill", axisColor)
  .text("In-Phase");
chart.append("text")
  .attr("transform", `translate(476,${y(0)}) rotate(-90)`)
  .attr("text-anchor", "middle")
  .attr("font-family", serif).attr("font-size", 14.5).attr("fill", axisColor)
  .text("Quadrature");
</script>
</body>
</html>
